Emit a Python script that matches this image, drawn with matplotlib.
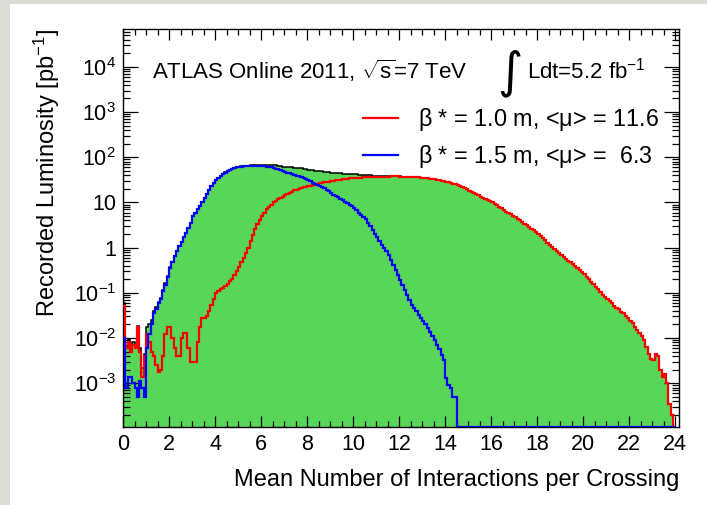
"""
Pile-up distribution (ATLAS online 2011) redrawn as stacked step histograms.
"""

import numpy as np
import matplotlib
matplotlib.use("Agg")
import matplotlib.pyplot as plt
from matplotlib.patches import Rectangle
from matplotlib.lines import Line2D
from matplotlib.ticker import FixedLocator, FixedFormatter, MultipleLocator, LogLocator, NullFormatter

plt.rcParams['font.family'] = ['Liberation Sans', 'DejaVu Sans']
plt.rcParams['mathtext.fontset'] = 'custom'
plt.rcParams['mathtext.rm'] = 'Liberation Sans'
plt.rcParams['mathtext.it'] = 'Liberation Sans:italic'
plt.rcParams['mathtext.default'] = 'regular'

# histogram binning: 0.1 wide bins from 0 to 24
mu_low, mu_high, n_bins = 0.0, 24.0, 240

# recorded luminosity per bin [pb^-1], beta* = 1.0 m (one row per unit of mu)
lumi_beta10 = [
    0.05, 0.006, 0.008, 0.005, 0.007, 0.006, 0.018, 0.005, 0.0014, 0.004,
    0.012, 0.008, 0.005, 0.004, 0.0025, 0.0018, 0.002, 0.004, 0.012, 0.018,
    0.018, 0.01, 0.006, 0.004, 0.004, 0.01, 0.013, 0.013, 0.006, 0.003,
    0.003, 0.003, 0.008, 0.018, 0.028, 0.028, 0.03, 0.04, 0.055, 0.075,
    0.1, 0.11, 0.12, 0.13, 0.14, 0.16, 0.18, 0.2, 0.25, 0.3,
    0.38, 0.48, 0.58, 0.75, 1.0, 1.4, 1.9, 2.6, 3.3, 4.1,
    5.0, 6.0, 7.0, 8.0, 9.0, 10.0, 11.0, 11.8, 12.6, 13.5,
    14.5, 15.5, 16.5, 17.5, 18.5, 19.3, 20.0, 20.8, 21.5, 22.2,
    22.8, 23.5, 24.2, 25.0, 25.8, 26.5, 27.2, 27.8, 28.4, 29.0,
    29.6, 30.2, 30.8, 31.4, 32.0, 32.5, 33.0, 33.5, 34.0, 34.4,
    34.8, 35.1, 35.4, 35.7, 36.0, 36.2, 36.4, 36.6, 36.8, 37.0,
    37.1, 37.2, 37.3, 37.4, 37.5, 37.5, 37.6, 37.6, 37.6, 37.6,
    37.5, 37.4, 37.3, 37.2, 37.0, 36.8, 36.5, 36.2, 35.8, 35.4,
    35.0, 34.6, 34.2, 33.7, 33.2, 32.6, 32.0, 31.3, 30.6, 29.8,
    29.0, 28.2, 27.3, 26.3, 25.3, 24.2, 23.0, 21.8, 20.6, 19.4,
    18.4, 17.3, 16.3, 15.3, 14.3, 13.4, 12.5, 11.7, 11.2, 10.6,
    10.1, 9.3, 8.7, 8.0, 7.4, 6.9, 6.3, 5.9, 5.5, 5.1,
    4.8, 4.4, 4.1, 3.7, 3.4, 3.2, 2.9, 2.6, 2.4, 2.2,
    2.0, 1.8, 1.6, 1.45, 1.3, 1.16, 1.05, 0.93, 0.83, 0.75,
    0.68, 0.62, 0.56, 0.51, 0.47, 0.43, 0.39, 0.355, 0.32, 0.29,
    0.26, 0.23, 0.20, 0.175, 0.155, 0.135, 0.12, 0.105, 0.091, 0.081,
    0.072, 0.065, 0.059, 0.052, 0.047, 0.043, 0.038, 0.035, 0.031, 0.028,
    0.024, 0.021, 0.018, 0.015, 0.013, 0.011, 0.0089, 0.0063, 0.0045, 0.0035,
    0.0032, 0.0045, 0.004, 0.002, 0.0014, 0.0016, 0.001, 0.00035, 0.0002, 0.0,
]

# recorded luminosity per bin [pb^-1], beta* = 1.5 m
lumi_beta15 = [
    0.01, 0.0008, 0.0014, 0.0014, 0.001, 0.0008, 0.0005, 0.0011, 0.0008, 0.0005,
    0.006, 0.012, 0.02, 0.035, 0.045, 0.06, 0.075, 0.11, 0.15, 0.22,
    0.35, 0.48, 0.65, 0.85, 1.1, 1.35, 1.7, 2.1, 2.7, 3.6,
    4.9, 5.9, 7.1, 8.3, 10.2, 12.3, 15.1, 18.6, 22.9, 27.5,
    32.0, 35.5, 39.0, 42.5, 46.0, 49.5, 53.0, 56.0, 58.0, 60.0,
    61.5, 62.5, 63.5, 64.0, 64.5, 65.0, 65.0, 65.0, 65.0, 64.5,
    64.0, 63.0, 62.0, 61.0, 59.5, 58.0, 56.0, 54.0, 51.5, 49.0,
    48.0, 46.0, 44.0, 42.7, 40.7, 39.4, 37.8, 36.1, 34.3, 32.4,
    30.8, 29.2, 27.5, 26.0, 24.8, 23.4, 21.9, 20.4, 19.0, 17.6,
    16.2, 15.0, 13.8, 12.9, 12.0, 11.2, 10.5, 9.8, 9.0, 8.4,
    7.7, 6.8, 6.0, 5.4, 4.8, 4.3, 3.6, 3.0, 2.5, 2.0,
    1.7, 1.4, 1.16, 0.98, 0.85, 0.69, 0.54, 0.42, 0.32, 0.25,
    0.195, 0.15, 0.117, 0.091, 0.071, 0.055, 0.046, 0.039, 0.033, 0.028,
    0.0234, 0.02, 0.0166, 0.0138, 0.0112, 0.0089, 0.0071, 0.0056, 0.0042, 0.0032,
    0.0013, 0.0009, 0.0008, 0.0005, 0.0005, 0, 0, 0, 0, 0,
] + [0.0] * 90

legend_labels = [r'$\beta$ * = 1.0 m, <$\mu$> = 11.6',
                 r'$\beta$ * = 1.5 m, <$\mu$> =  6.3']
ytick_values = [1e-3, 1e-2, 1e-1, 1, 10, 1e2, 1e3, 1e4]
ytick_labels = ['$10^{-3}$', '$10^{-2}$', '$10^{-1}$', '1', '10',
                '$10^{2}$', '$10^{3}$', '$10^{4}$']

GREEN = '#57d657'
FS_TICK = 15.5
FS_LABEL = 17
FS_TEXT = 16
FS_LEG = 16.8
Y_MIN, Y_MAX = 1.06e-4, 6.9e4

edges = np.linspace(mu_low, mu_high, n_bins + 1)
h_red = np.array(lumi_beta10)
h_blue = np.array(lumi_beta15)
h_tot = h_red + h_blue

fig = plt.figure(figsize=(7.07, 5.05), dpi=100)
fig.patch.set_facecolor('#dcdcd7')
fig.patches.append(Rectangle((10 / 707, 0), 1, 1 - 4 / 505, transform=fig.transFigure,
                             facecolor='white', edgecolor='none', zorder=-10))

ax = fig.add_axes([123 / 707, 1 - 427.3 / 505, 556 / 707, 398.3 / 505])
ax.set_yscale('log')

# stacked total (filled), then the two components on top
ax.stairs(h_tot, edges, fill=True, color=GREEN, baseline=1e-6, zorder=1)
ax.stairs(np.maximum(h_tot, Y_MIN), edges, color='black', lw=1.1, baseline=None, zorder=2)
ax.stairs(np.maximum(h_red, Y_MIN), edges, color='#ff0000', lw=1.6, baseline=None, zorder=3)
ax.stairs(np.maximum(h_blue, Y_MIN), edges, color='#0000ff', lw=1.6, baseline=None, zorder=4)

ax.set_xlim(0, 24.16)
ax.set_ylim(Y_MIN, Y_MAX)

ax.xaxis.set_major_locator(MultipleLocator(2))
ax.xaxis.set_minor_locator(MultipleLocator(0.5))
ax.yaxis.set_major_locator(FixedLocator(ytick_values))
ax.yaxis.set_major_formatter(FixedFormatter(ytick_labels))
ax.yaxis.set_minor_locator(LogLocator(base=10, subs=np.arange(2, 10), numticks=30))
ax.yaxis.set_minor_formatter(NullFormatter())

ax.tick_params(which='both', direction='in', top=True, right=True, width=0.9,
               labelsize=FS_TICK, colors='black')
ax.tick_params(axis='x', which='major', length=8, pad=5)
ax.tick_params(axis='x', which='minor', length=4)
ax.tick_params(axis='y', which='major', length=10.5, pad=5)
ax.tick_params(axis='y', which='minor', length=5.3)
for sp in ax.spines.values():
    sp.set_linewidth(1.0)

ax.set_xlabel('Mean Number of Interactions per Crossing', fontsize=FS_LABEL, loc='right')
ax.xaxis.set_label_coords(1.0, -0.105)
ax.set_ylabel('Recorded Luminosity [pb$^{-1}$]', fontsize=FS_LABEL, loc='top')
ax.yaxis.set_label_coords(-0.109, 1.0)

fig.text(152 / 707, 1 - 79 / 505, r'ATLAS Online 2011, $\sqrt{s}$=7 TeV',
         fontsize=FS_TEXT, va='baseline', ha='left')
fig.text(510 / 707, 1 - 73 / 505, '\u222b', fontsize=35, family='DejaVu Sans',
         va='center', ha='center')
fig.text(527 / 707, 1 - 79 / 505, 'Ldt=5.2 fb$^{-1}$', fontsize=FS_TEXT,
         va='baseline', ha='left')

handles = [Line2D([], [], color='#ff0000', lw=1.6),
           Line2D([], [], color='#0000ff', lw=1.6)]
ax.legend(handles, legend_labels, loc='upper left', bbox_to_anchor=(363 / 707, 1 - 106 / 505),
          bbox_transform=fig.transFigure, frameon=False, fontsize=FS_LEG,
          handlelength=1.5, handletextpad=0.86, labelspacing=0.42,
          borderpad=0, borderaxespad=0)

fig.savefig('out.png', dpi=100)
